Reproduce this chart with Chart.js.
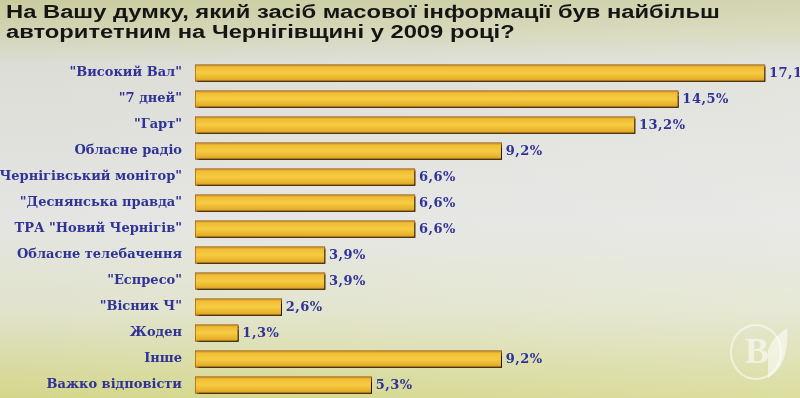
<!DOCTYPE html>
<html>
<head>
<meta charset="utf-8">
<script src="https://cdn.jsdelivr.net/npm/chart.js@4/dist/chart.umd.min.js"></script>
<style>
  html, body { margin: 0; padding: 0; background: #e2e3dc; }
  #wrap { width: 800px; height: 398px; position: relative; }
</style>
</head>
<body>
<div id="wrap"><canvas id="c" width="800" height="398"></canvas></div>
<script>
// ---- data ----
const titleLines = [
  'На Вашу думку, який засіб масової інформації був найбільш',
  'авторитетним на Чернігівщині у 2009 році?'
];
const categories = [
  '"Високий Вал"',
  '"7 дней"',
  '"Гарт"',
  'Обласне радіо',
  '"Чернігівський монітор"',
  '"Деснянська правда"',
  'ТРА "Новий Чернігів"',
  'Обласне телебачення',
  '"Еспресо"',
  '"Вісник Ч"',
  'Жоден',
  'Інше',
  'Важко відповісти'
];
const shares = [17.1, 14.5, 13.2, 9.2, 6.6, 6.6, 6.6, 3.9, 3.9, 2.6, 1.3, 9.2, 5.3];

const LABEL_COLOR = '#2f3296';

const backgroundPlugin = {
  id: 'bg',
  beforeDraw(chart) {
    const { ctx, width, height } = chart;
    ctx.save();
    const g = ctx.createLinearGradient(0, 0, 0, height);
    g.addColorStop(0.00, '#c9cb9e');
    g.addColorStop(0.08, '#d3d4b4');
    g.addColorStop(0.16, '#dcddd6');
    g.addColorStop(0.55, '#e4e5e2');
    g.addColorStop(0.78, '#e1e3cc');
    g.addColorStop(1.00, '#d3d78a');
    ctx.fillStyle = g;
    ctx.fillRect(0, 0, width, height);
    const h = ctx.createLinearGradient(0, 0, width, 0);
    h.addColorStop(0, 'rgba(255,255,255,0)');
    h.addColorStop(1, 'rgba(255,255,255,0.18)');
    ctx.fillStyle = h;
    ctx.fillRect(0, 0, width, height);
    // faint watermark logo
    ctx.strokeStyle = 'rgba(255,255,255,0.55)';
    ctx.lineWidth = 2;
    ctx.beginPath();
    ctx.ellipse(756, 352, 25, 27, 0, 0, Math.PI * 2);
    ctx.stroke();
    ctx.fillStyle = 'rgba(255,255,255,0.55)';
    ctx.font = 'bold 36px "Liberation Serif", serif';
    ctx.textAlign = 'center';
    ctx.textBaseline = 'middle';
    ctx.fillText('В', 757, 354);
    ctx.beginPath();
    ctx.moveTo(768, 378);
    ctx.quadraticCurveTo(790, 365, 787, 328);
    ctx.quadraticCurveTo(772, 338, 768, 350);
    ctx.closePath();
    ctx.fill();
    ctx.restore();
  }
};

const titlePlugin = {
  id: 'slideTitle',
  afterDraw(chart) {
    const { ctx } = chart;
    const sx = 1.32;
    ctx.save();
    ctx.fillStyle = '#151515';
    ctx.font = 'bold 18px "Liberation Sans", Arial, sans-serif';
    ctx.textAlign = 'left';
    ctx.textBaseline = 'alphabetic';
    ctx.scale(sx, 1);
    titleLines.forEach((t, i) => ctx.fillText(t, 6 / sx, 17.5 + i * 20));
    ctx.restore();
  }
};

const barStylePlugin = {
  id: 'barStyle',
  beforeDatasetsDraw(chart) {
    const ctx = chart.ctx;
    ctx.save();
    ctx.shadowColor = 'rgba(30,15,0,0.95)';
    ctx.shadowOffsetX = 2;
    ctx.shadowOffsetY = 2;
    ctx.shadowBlur = 1;
  },
  afterDatasetsDraw(chart) {
    const ctx = chart.ctx;
    ctx.restore();
    ctx.save();
    ctx.fillStyle = LABEL_COLOR;
    ctx.font = 'bold 13px "DejaVu Serif", serif';
    ctx.letterSpacing = '0.5px';
    ctx.textAlign = 'left';
    ctx.textBaseline = 'middle';
    const meta = chart.getDatasetMeta(0);
    meta.data.forEach((el, i) => {
      const v = chart.data.datasets[0].data[i];
      ctx.fillText(v.toFixed(1).replace('.', ',') + '%', el.x + 4, el.y + 1);
    });
    ctx.restore();
  }
};

function barGradient(context) {
  const chart = context.chart;
  const ys = chart.scales && chart.scales.y;
  if (!ys || context.dataIndex === undefined) return '#f0c232';
  const y = ys.getPixelForValue(context.dataIndex);
  if (!isFinite(y)) return '#f0c232';
  const g = chart.ctx.createLinearGradient(0, y - 8.5, 0, y + 8.5);
  g.addColorStop(0.00, '#c4821a');
  g.addColorStop(0.15, '#f0bd34');
  g.addColorStop(0.50, '#f6cb42');
  g.addColorStop(0.85, '#e8b02a');
  g.addColorStop(1.00, '#d0901c');
  return g;
}

new Chart(document.getElementById('c'), {
  type: 'bar',
  data: {
    labels: categories,
    datasets: [{
      data: shares,
      backgroundColor: barGradient,
      borderColor: '#9a5a0c',
      borderWidth: 1,
      borderSkipped: false,
      barThickness: 17
    }]
  },
  options: {
    indexAxis: 'y',
    responsive: false,
    animation: false,
    devicePixelRatio: 1,
    layout: { padding: { top: 60, bottom: 0, left: 0, right: 0 } },
    plugins: {
      legend: { display: false },
      title: { display: false },
      tooltip: { enabled: false }
    },
    scales: {
      x: {
        display: false,
        min: 0,
        max: 18.15
      },
      y: {
        grid: { display: false, drawTicks: false },
        border: { display: false },
        ticks: {
          color: LABEL_COLOR,
          font: { family: '"DejaVu Serif", serif', weight: 'bold', size: 13 },
          padding: 13,
          autoSkip: false
        },
        afterFit(scale) {
          scale.width = 195;
          scale.paddingTop = 0;
          scale.paddingBottom = 0;
        }
      }
    }
  },
  plugins: [backgroundPlugin, barStylePlugin, titlePlugin]
});
</script>
</body>
</html>
